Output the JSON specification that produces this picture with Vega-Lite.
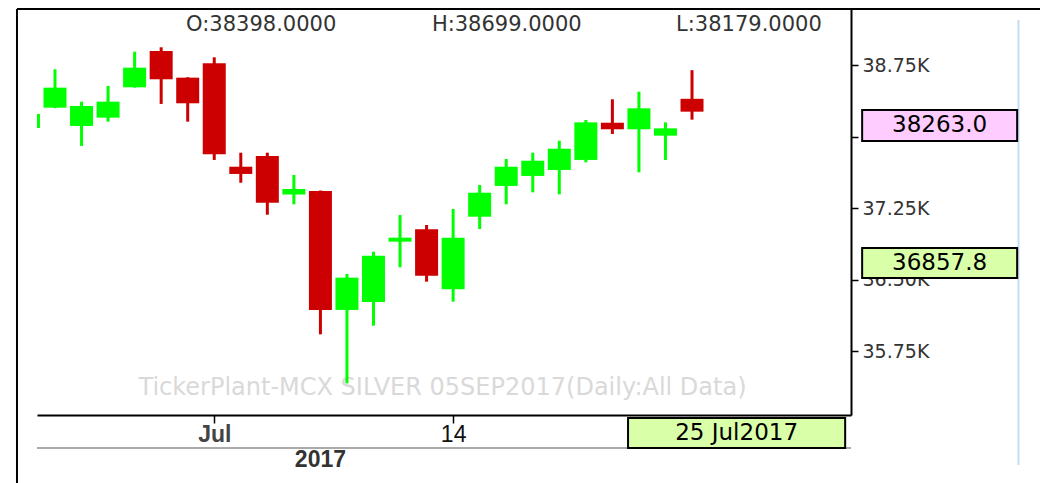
{
  "$schema": "https://vega.github.io/schema/vega-lite/v6.json",
  "width": 814,
  "height": 406,
  "autosize": {"type": "none"},
  "padding": {"left": 37, "top": 9, "right": 189, "bottom": 68},
  "background": "white",
  "config": {"view": {"stroke": null}, "font": "DejaVu Sans"},
  "data": {"values": [
    {"i": 0, "date": "2017-06-22", "o": 38092, "h": 38300, "l": 38050, "c": 38239},
    {"i": 1, "date": "2017-06-23", "o": 38305, "h": 38708, "l": 38300, "c": 38515},
    {"i": 2, "date": "2017-06-26", "o": 38113, "h": 38368, "l": 37903, "c": 38323},
    {"i": 3, "date": "2017-06-27", "o": 38200, "h": 38533, "l": 38158, "c": 38368},
    {"i": 4, "date": "2017-06-28", "o": 38519, "h": 38893, "l": 38515, "c": 38725},
    {"i": 5, "date": "2017-06-29", "o": 38900, "h": 38939, "l": 38344, "c": 38603},
    {"i": 6, "date": "2017-06-30", "o": 38620, "h": 38625, "l": 38158, "c": 38351},
    {"i": 7, "date": "2017-07-03", "o": 38771, "h": 38834, "l": 37756, "c": 37816},
    {"i": 8, "date": "2017-07-04", "o": 37685, "h": 37832, "l": 37517, "c": 37609},
    {"i": 9, "date": "2017-07-05", "o": 37798, "h": 37832, "l": 37181, "c": 37307},
    {"i": 10, "date": "2017-07-06", "o": 37393, "h": 37598, "l": 37290, "c": 37451},
    {"i": 11, "date": "2017-07-07", "o": 37431, "h": 37435, "l": 35925, "c": 36181},
    {"i": 12, "date": "2017-07-10", "o": 36181, "h": 36559, "l": 35411, "c": 36520},
    {"i": 13, "date": "2017-07-11", "o": 36265, "h": 36793, "l": 36016, "c": 36751},
    {"i": 14, "date": "2017-07-12", "o": 36898, "h": 37178, "l": 36629, "c": 36940},
    {"i": 15, "date": "2017-07-13", "o": 37028, "h": 37073, "l": 36478, "c": 36541},
    {"i": 16, "date": "2017-07-14", "o": 36398, "h": 37241, "l": 36268, "c": 36940},
    {"i": 17, "date": "2017-07-17", "o": 37160, "h": 37493, "l": 37031, "c": 37412},
    {"i": 18, "date": "2017-07-18", "o": 37483, "h": 37766, "l": 37290, "c": 37685},
    {"i": 19, "date": "2017-07-19", "o": 37588, "h": 37832, "l": 37416, "c": 37748},
    {"i": 20, "date": "2017-07-20", "o": 37651, "h": 37958, "l": 37395, "c": 37874},
    {"i": 21, "date": "2017-07-21", "o": 37756, "h": 38176, "l": 37731, "c": 38151},
    {"i": 22, "date": "2017-07-24", "o": 38147, "h": 38393, "l": 38029, "c": 38078},
    {"i": 23, "date": "2017-07-25", "o": 38078, "h": 38473, "l": 37626, "c": 38298},
    {"i": 24, "date": "2017-07-26", "o": 38011, "h": 38151, "l": 37756, "c": 38088},
    {"i": 25, "date": "2017-07-27", "o": 38398, "h": 38699, "l": 38179, "c": 38263}
  ]},
  "layer": [
    {
      "data": {"values": [{"t": "TickerPlant-MCX SILVER 05SEP2017(Daily:All Data)"}]},
      "mark": {"type": "text", "clip": true, "fontSize": 24, "color": "#d9d9d9", "align": "center", "baseline": "middle"},
      "encoding": {
        "x": {"datum": 15.6, "type": "quantitative"},
        "y": {"datum": 35362, "type": "quantitative"},
        "text": {"field": "t"}
      }
    },
    {
      "mark": {"type": "rule", "strokeWidth": 3, "clip": true},
      "encoding": {
        "x": {"field": "i", "type": "quantitative",
              "scale": {"domain": [0.322, 30.99], "nice": false, "zero": false, "padding": 0},
              "axis": {"title": null, "values": [7, 16], "grid": false,
                       "labelExpr": "datum.value == 7 ? 'Jul' : '14'",
                       "domainColor": "black", "domainWidth": 2,
                       "tickColor": "black", "tickSize": 8, "tickWidth": 1.5,
                       "labelFontSize": 23, "labelPadding": 0,
                       "labelFont": "Liberation Sans",
                       "labelColor": {"condition": {"test": "datum.value == 7", "value": "#444444"}, "value": "#111111"},
                       "labelFontWeight": {"condition": {"test": "datum.value == 7", "value": "bold"}, "value": "normal"}}},
        "y": {"field": "l", "type": "quantitative",
              "scale": {"domain": [35078, 39341], "nice": false, "zero": false, "padding": 0},
              "axis": {"orient": "right", "title": null, "grid": false,
                       "values": [35750, 36500, 37250, 38000, 38750],
                       "labelExpr": "datum.value == 38000 ? '' : format(datum.value / 1000, '.2f') + 'K'",
                       "domainColor": "black", "domainWidth": 2,
                       "tickColor": "black", "tickSize": 7, "tickWidth": 1.5,
                       "labelFontSize": 19, "labelColor": "#333333", "labelPadding": 4}},
        "y2": {"field": "h"},
        "color": {"condition": {"test": "datum.o > datum.c", "value": "#cc0000"}, "value": "#00ff00"}
      }
    },
    {
      "mark": {"type": "bar", "size": 23, "clip": true},
      "encoding": {
        "x": {"field": "i", "type": "quantitative"},
        "y": {"field": "o", "type": "quantitative"},
        "y2": {"field": "c"},
        "color": {"condition": {"test": "datum.o > datum.c", "value": "#cc0000"}, "value": "#00ff00"}
      }
    },
    {
      "data": {"values": [{"t": "O:38398.0000", "x": 5.94}, {"t": "H:38699.0000", "x": 15.2}, {"t": "L:38179.0000", "x": 24.4}]},
      "mark": {"type": "text", "clip": true, "fontSize": 21, "color": "#333333", "align": "left", "baseline": "middle"},
      "encoding": {
        "x": {"field": "x", "type": "quantitative"},
        "y": {"datum": 39173, "type": "quantitative"},
        "text": {"field": "t"}
      }
    },
    {
      "data": {"values": [
        {"part": "top", "x": -0.432, "x2": 38.2, "y": 39341, "y2": 39341, "col": "black"},
        {"part": "left", "x": -0.432, "x2": -0.432, "y": 39341, "y2": 34300, "col": "black"},
        {"part": "strip", "x": 0.322, "x2": 30.99, "y": 34732, "y2": 34732, "col": "#aaaaaa"},
        {"part": "edge", "x": 37.3, "x2": 37.3, "y": 39226, "y2": 34553, "col": "#c6dcf0"}
      ]},
      "mark": {"type": "rule", "strokeWidth": 2},
      "encoding": {
        "x": {"field": "x", "type": "quantitative"},
        "x2": {"field": "x2"},
        "y": {"field": "y", "type": "quantitative"},
        "y2": {"field": "y2"},
        "color": {"field": "col", "type": "nominal", "scale": null}
      }
    },
    {
      "data": {"values": [
        {"x": 31.41, "x2": 37.25, "top": 38281, "bottom": 37955, "fill": "#ffccff"},
        {"x": 31.41, "x2": 37.25, "top": 36832, "bottom": 36517, "fill": "#d9ffa8"},
        {"x": 22.59, "x2": 30.77, "top": 35047, "bottom": 34732, "fill": "#d9ffa8"}
      ]},
      "mark": {"type": "rect", "stroke": "black", "strokeWidth": 2},
      "encoding": {
        "x": {"field": "x", "type": "quantitative"},
        "x2": {"field": "x2"},
        "y": {"field": "top", "type": "quantitative"},
        "y2": {"field": "bottom"},
        "fill": {"field": "fill", "type": "nominal", "scale": null}
      }
    },
    {
      "data": {"values": [
        {"t": "38263.0", "x": 34.33, "y": 38118},
        {"t": "36857.8", "x": 34.33, "y": 36674},
        {"t": "25 Jul2017", "x": 26.68, "y": 34889}
      ]},
      "mark": {"type": "text", "fontSize": 23, "color": "black", "align": "center", "baseline": "middle"},
      "encoding": {
        "x": {"field": "x", "type": "quantitative"},
        "y": {"field": "y", "type": "quantitative"},
        "text": {"field": "t"}
      }
    },
    {
      "data": {"values": [{"t": "2017"}]},
      "mark": {"type": "text", "fontSize": 23, "fontWeight": "bold", "font": "Liberation Sans", "color": "#333333", "align": "center", "baseline": "middle"},
      "encoding": {
        "x": {"datum": 11.0, "type": "quantitative"},
        "y": {"datum": 34606, "type": "quantitative"},
        "text": {"field": "t"}
      }
    }
  ]
}
